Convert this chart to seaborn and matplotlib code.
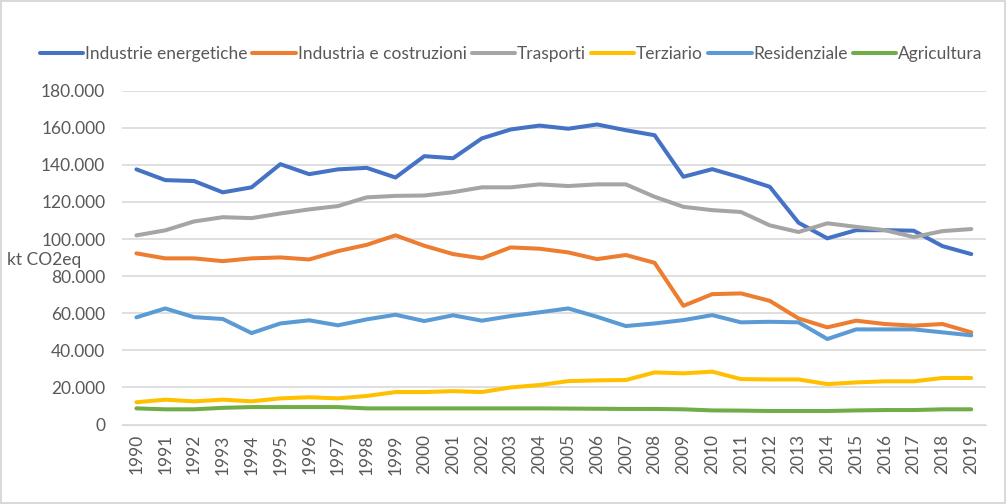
import pandas as pd
import matplotlib.pyplot as plt
import seaborn as sns
from matplotlib.ticker import FuncFormatter

years = list(range(1990, 2020))

industrie_energetiche = [137.6, 131.8, 131.3, 125.2, 127.9, 140.4, 135.0, 137.6, 138.4, 133.2,
                         144.7, 143.6, 154.3, 159.1, 161.2, 159.5, 161.8, 158.7, 156.0, 133.6,
                         137.7, 133.2, 128.2, 108.8, 100.4, 104.8, 104.8, 104.5, 96.2, 91.9]
industria_costruzioni = [92.3, 89.6, 89.6, 88.1, 89.6, 90.1, 89.0, 93.5, 96.9, 102.0,
                         96.4, 91.9, 89.6, 95.5, 94.8, 92.8, 89.2, 91.4, 87.2, 64.0,
                         70.3, 70.7, 66.7, 57.2, 52.4, 56.0, 54.2, 53.3, 54.2, 49.7]
trasporti = [102.0, 104.7, 109.5, 111.8, 111.3, 113.8, 116.0, 117.8, 122.5, 123.3,
             123.5, 125.3, 127.9, 127.9, 129.5, 128.6, 129.5, 129.5, 122.8, 117.4,
             115.6, 114.6, 107.4, 103.8, 108.5, 106.6, 104.8, 101.1, 104.3, 105.4]
terziario = [12.0, 13.4, 12.5, 13.4, 12.5, 14.1, 14.7, 14.1, 15.4, 17.5,
             17.5, 18.0, 17.5, 20.0, 21.3, 23.4, 23.8, 24.0, 28.1, 27.6,
             28.5, 24.5, 24.3, 24.3, 21.8, 22.7, 23.3, 23.3, 25.1, 25.1]
residenziale = [57.8, 62.6, 57.9, 56.9, 49.3, 54.5, 56.2, 53.5, 56.7, 59.2,
                55.8, 58.9, 56.0, 58.5, 60.5, 62.6, 58.1, 53.1, 54.5, 56.3,
                59.0, 55.1, 55.4, 55.1, 46.1, 51.3, 51.3, 51.3, 49.7, 48.1]
agricoltura = [8.7, 8.2, 8.2, 9.0, 9.4, 9.4, 9.4, 9.4, 8.7, 8.7,
               8.7, 8.7, 8.7, 8.7, 8.7, 8.6, 8.5, 8.4, 8.4, 8.2,
               7.6, 7.5, 7.3, 7.3, 7.3, 7.6, 7.8, 7.8, 8.2, 8.2]

series = {
    "Industrie energetiche": industrie_energetiche,
    "Industria e costruzioni": industria_costruzioni,
    "Trasporti": trasporti,
    "Terziario": terziario,
    "Residenziale": residenziale,
    "Agricultura": agricoltura,
}
colors = ["#4472C4", "#ED7D31", "#A5A5A5", "#FFC000", "#5B9BD5", "#70AD47"]

rows = []
for name, vals in series.items():
    for y, v in zip(years, vals):
        rows.append({"anno": y, "valore": v * 1000, "settore": name})
df = pd.DataFrame(rows)

sns.set_style("white")
plt.rcParams["font.family"] = ["Lato", "DejaVu Sans"]
text_col = "#595959"
fs = 12.5

fig = plt.figure(figsize=(10.06, 5.04), dpi=100)
fig.patch.set_edgecolor("#d9d9d9")
fig.patch.set_linewidth(1.5)
ax = fig.add_axes([0.1213, 0.1577, 0.8585, 0.6623])

sns.lineplot(data=df, x="anno", y="valore", hue="settore", palette=colors,
             linewidth=2.9, ax=ax, legend=True)

ax.set_xlim(1989.5, 2019.5)
ax.set_ylim(0, 180000)
ax.set_yticks(range(0, 180001, 20000))
ax.yaxis.set_major_formatter(FuncFormatter(lambda v, p: f"{int(v):,}".replace(",", ".")))
ax.set_xticks(years)
ax.set_xticklabels([str(y) for y in years], rotation=90)
ax.tick_params(axis="both", length=0, labelsize=fs, colors=text_col)
ax.tick_params(axis="y", pad=12)
ax.tick_params(axis="x", pad=7)
ax.grid(axis="y", color="#d9d9d9", linewidth=1.2)
ax.set_axisbelow(True)
for s in ["top", "right", "left"]:
    ax.spines[s].set_visible(False)
ax.spines["bottom"].set_color("#d9d9d9")
ax.set_xlabel("")
ax.set_ylabel("")
fig.text(0.007, 1 - 260 / 504, "kt CO2eq", fontsize=fs, color=text_col, va="center", ha="left")

handles, labels = ax.get_legend_handles_labels()
ax.get_legend().remove()
fig.legend(handles, labels, loc="center", bbox_to_anchor=(0.508, 0.893), ncol=6,
           frameon=False, fontsize=fs, handlelength=2.5, handletextpad=0.1,
           columnspacing=0.3, labelcolor=text_col)

fig.savefig("out.png", dpi=100)
